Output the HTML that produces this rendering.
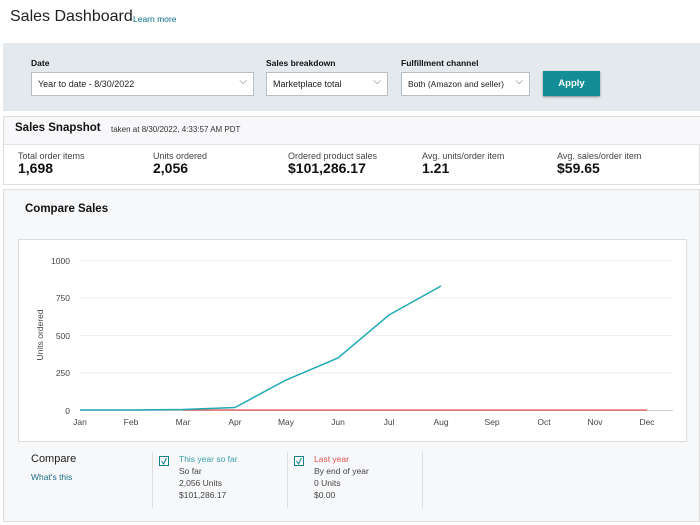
<!DOCTYPE html>
<html><head><style>
*{margin:0;padding:0;box-sizing:border-box}
body{width:700px;height:525px;background:#fff;font-family:"Liberation Sans",sans-serif;color:#111;position:relative;overflow:hidden}
.a{position:absolute}
.sel{position:absolute;top:72px;height:24px;background:#fff;border:1px solid #b8bfc4;font-size:9px;line-height:22px;padding-left:6px;color:#222;white-space:nowrap}
.sel:after{content:"⌵";position:absolute;right:6px;top:-2px;color:#666;font-size:10px}
.lab{position:absolute;top:58px;font-size:8.5px;font-weight:bold;color:#111}
.ml{position:absolute;top:151px;font-size:9px;color:#444}
.mv{position:absolute;top:160px;font-size:14px;font-weight:bold;color:#111}
.t{font-size:8.5px;fill:#444;font-family:"Liberation Sans",sans-serif}
</style></head><body>
<div class="a" style="left:10px;top:8px;font-size:16px;color:#222">Sales Dashboard</div>
<div class="a" style="left:133px;top:14px;font-size:8.5px;color:#0a6b8a">Learn more</div>
<div class="a" style="left:3px;top:43px;width:697px;height:68px;background:#e3e9ec"></div>
<div class="lab" style="left:31px">Date</div>
<div class="lab" style="left:266px">Sales breakdown</div>
<div class="lab" style="left:401px">Fulfillment channel</div>
<div class="sel" style="left:31px;width:223px">Year to date - 8/30/2022</div>
<div class="sel" style="left:266px;width:122px">Marketplace total</div>
<div class="sel" style="left:401px;width:129px;font-size:8.5px">Both (Amazon and seller)</div>
<div class="a" style="left:543px;top:71px;width:57px;height:25px;background:#138e96;color:#fff;font-size:9.5px;font-weight:bold;text-align:center;line-height:25px;box-shadow:0 1px 2px #888">Apply</div>
<div class="a" style="left:3px;top:116px;width:697px;height:69px;border:1px solid #ddd;background:#fff"></div>
<div class="a" style="left:4px;top:117px;width:696px;height:28px;background:#f8f7fa;border-bottom:1px solid #e4e4e4"></div>
<div class="a" style="left:15px;top:122px;font-size:11.5px;font-weight:bold">Sales Snapshot</div>
<div class="a" style="left:111px;top:125px;font-size:8px;color:#333">taken at 8/30/2022, 4:33:57 AM PDT</div>
<div class="ml" style="left:18px">Total order items</div><div class="mv" style="left:18px">1,698</div>
<div class="ml" style="left:153px">Units ordered</div><div class="mv" style="left:153px">2,056</div>
<div class="ml" style="left:288px">Ordered product sales</div><div class="mv" style="left:288px">$101,286.17</div>
<div class="ml" style="left:422px">Avg. units/order item</div><div class="mv" style="left:422px">1.21</div>
<div class="ml" style="left:557px">Avg. sales/order item</div><div class="mv" style="left:557px">$59.65</div>
<div class="a" style="left:3px;top:189px;width:697px;height:333px;background:#f7f8fa;border:1px solid #ddd"></div>
<div class="a" style="left:25px;top:203px;font-size:11.5px;font-weight:bold">Compare Sales</div>
<div class="a" style="left:18px;top:239px;width:669px;height:203px;background:#fff;border:1px solid #ddd"></div>
<svg class="a" style="left:0;top:0" width="700" height="525">
<g stroke="#eee" stroke-width="1">
<line x1="80" y1="260.5" x2="673" y2="260.5"/><line x1="80" y1="298" x2="673" y2="298"/><line x1="80" y1="335.5" x2="673" y2="335.5"/><line x1="80" y1="373" x2="673" y2="373"/>
</g>
<line x1="80" y1="410.5" x2="673" y2="410.5" stroke="#ccc"/>
<g class="t" text-anchor="end"><text x="70" y="264">1000</text><text x="70" y="301">750</text><text x="70" y="339">500</text><text x="70" y="376">250</text><text x="70" y="414">0</text></g>
<text class="t" transform="translate(43,335) rotate(-90)" text-anchor="middle" font-size="8">Units ordered</text>
<g class="t" text-anchor="middle">
<text x="80" y="425">Jan</text><text x="131" y="425">Feb</text><text x="183" y="425">Mar</text><text x="235" y="425">Apr</text><text x="286" y="425">May</text><text x="338" y="425">Jun</text><text x="389" y="425">Jul</text><text x="441" y="425">Aug</text><text x="492" y="425">Sep</text><text x="544" y="425">Oct</text><text x="595" y="425">Nov</text><text x="647" y="425">Dec</text></g>
<line x1="183" y1="410" x2="647" y2="410" stroke="#e05555" stroke-width="1.3"/>
<polyline points="80,410 131,410 183,409.5 235,407.5 286,380 338,358 389,315 441,286" fill="none" stroke="#20aab5" stroke-width="1.5"/>
<line x1="152.5" y1="452" x2="152.5" y2="508" stroke="#ddd"/>
<line x1="287.5" y1="452" x2="287.5" y2="508" stroke="#ddd"/>
<line x1="422.5" y1="452" x2="422.5" y2="508" stroke="#ddd"/>
<rect x="159.5" y="456.5" width="9" height="9" fill="#fff" stroke="#137f88"/><path d="M161.5,461 l2,3 l3,-6" fill="none" stroke="#137f88"/>
<rect x="294.5" y="456.5" width="9" height="9" fill="#fff" stroke="#137f88"/><path d="M296.5,461 l2,3 l3,-6" fill="none" stroke="#137f88"/>
</svg>
<div class="a" style="left:31px;top:453px;font-size:11px;color:#222">Compare</div>
<div class="a" style="left:31px;top:472px;font-size:8.5px;color:#1d6a8a">What's this</div>
<div class="a" style="left:179px;top:453px;font-size:8.5px;line-height:12px;color:#444"><span style="color:#3aa0a8">This year so far</span><br>So far<br>2,056 Units<br>$101,286.17</div>
<div class="a" style="left:314px;top:453px;font-size:8.5px;line-height:12px;color:#444"><span style="color:#d9534f">Last year</span><br>By end of year<br>0 Units<br>$0.00</div>
</body></html>
